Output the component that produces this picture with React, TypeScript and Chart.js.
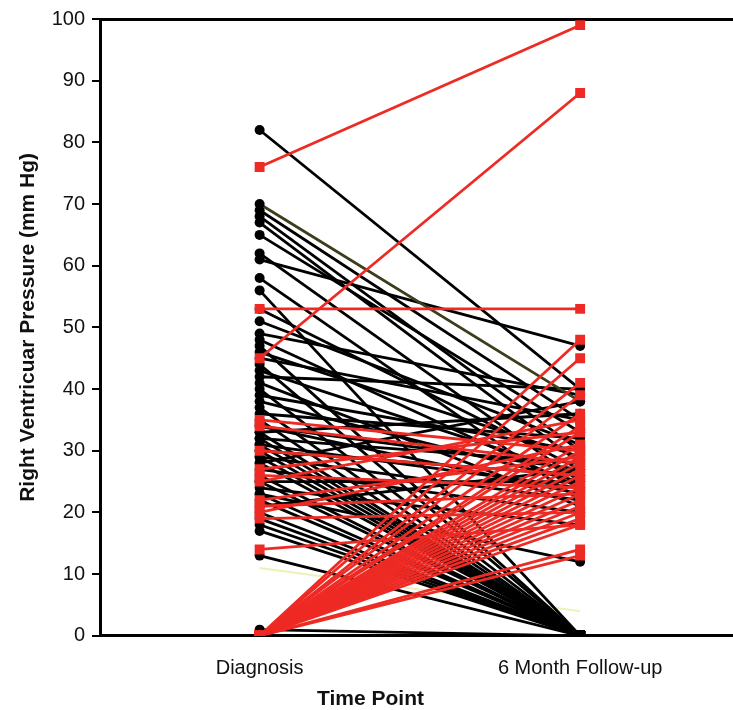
import React, { useEffect, useRef } from "react";
import { Chart, registerables } from "chart.js";

Chart.register(...registerables);

const timePoints = ["Diagnosis", "6 Month Follow-up"];
const yTicks = [0, 10, 20, 30, 40, 50, 60, 70, 80, 90, 100];

// Black (circle) patients: value at diagnosis and at 6 month follow-up
const blackDiagnosis = [82, 70, 69, 68, 67, 65, 62, 61, 58, 56, 53, 51, 49, 48, 47, 46, 45, 44, 43, 42, 41, 40, 39, 38, 37, 36, 35, 34, 34, 33, 33, 32, 32, 31, 31, 30, 30, 29, 29, 28, 28, 27, 26, 25, 25, 24, 23, 23, 22, 21, 20, 19, 18, 17, 13, 1, 0];
const blackFollowUp = [40, 38, 35, 30, 28, 33, 25, 47, 22, 0, 27, 31, 39, 24, 0, 29, 35, 0, 26, 40, 21, 0, 30, 25, 0, 32, 0, 27, 23, 0, 36, 0, 28, 24, 0, 26, 0, 22, 0, 38, 0, 20, 0, 25, 0, 18, 12, 0, 0, 27, 0, 0, 0, 0, 0, 0, 0];

// Red (square) patients
const redDiagnosis = [76, 45, 53, 35, 34, 30, 27, 26, 25, 22, 21, 20, 19, 14, 0, 0, 0, 0, 0, 0, 0, 0, 0, 0, 0, 0, 0, 0, 0, 0, 0, 0, 0, 0, 0, 0, 0];
const redFollowUp = [99, 88, 53, 30, 28, 26, 33, 24, 35, 29, 23, 31, 20, 18, 48, 45, 41, 39, 36, 34, 33, 31, 30, 29, 28, 27, 26, 25, 24, 23, 22, 21, 20, 19, 18, 14, 13];

// faint yellow trace
const yellowDiagnosis = [11];
const yellowFollowUp = [4];

const FONT = "'Liberation Sans', Arial, sans-serif";

export default function App() {
  const ref = useRef<HTMLCanvasElement | null>(null);

  useEffect(() => {
    if (!ref.current) return;
    const datasets: any[] = [];
    redDiagnosis.forEach((d, i) => {
      datasets.push({
        data: [
          { x: 0, y: d },
          { x: 1, y: redFollowUp[i] },
        ],
        borderColor: "#ee2a24",
        backgroundColor: "#ee2a24",
        borderWidth: 2.8,
        pointStyle: "rect",
        pointRadius: 7,
        pointBorderWidth: 0,
        order: 1,
      });
    });
    blackDiagnosis.forEach((d, i) => {
      const f = blackFollowUp[i];
      datasets.push({
        data: [
          { x: 0, y: d },
          { x: 1, y: f },
        ],
        borderColor: i === 1 ? "#3d3d1c" : "#000000",
        backgroundColor: "#000000",
        borderWidth: 2.8,
        pointStyle: ["circle", f === 0 ? "rect" : "circle"],
        pointRadius: [5, f === 0 ? 7 : 5],
        pointBorderWidth: 0,
        order: 2,
      });
    });
    yellowDiagnosis.forEach((d, i) => {
      datasets.push({
        data: [
          { x: 0, y: d },
          { x: 1, y: yellowFollowUp[i] },
        ],
        borderColor: "#eef0b8",
        borderWidth: 2,
        pointRadius: 0,
        order: 3,
      });
    });

    const chart = new Chart(ref.current, {
      type: "line",
      data: { datasets },
      options: {
        animation: false,
        responsive: false,
        maintainAspectRatio: false,
        layout: { padding: 0 },
        plugins: {
          legend: { display: false },
          tooltip: { enabled: false },
          title: {
            display: true,
            position: "bottom",
            text: "Time Point",
            color: "#111",
            font: { family: FONT, size: 21, weight: "bold" },
            padding: { top: 4, bottom: -2 },
          },
        },
        scales: {
          x: {
            type: "linear",
            position: "bottom",
            min: -0.498,
            max: 1.48,
            afterBuildTicks: (s: any) => {
              s.ticks = [{ value: 0 }, { value: 1 }];
            },
            afterFit: (s: any) => {
              s.height = 47;
            },
            grid: { display: false },
            border: { color: "#000", width: 3 },
            ticks: {
              color: "#111",
              padding: 13,
              maxRotation: 0,
              font: { family: FONT, size: 20 },
              callback: (v: any) => timePoints[v] ?? "",
            },
          },
          xTop: {
            type: "linear",
            position: "top",
            min: -0.498,
            max: 1.48,
            afterFit: (s: any) => {
              s.height = 17;
            },
            grid: { display: false },
            border: { color: "#000", width: 3 },
            ticks: { display: false },
          },
          y: {
            type: "linear",
            min: 0,
            max: 100,
            afterBuildTicks: (s: any) => {
              s.ticks = yTicks.map((v) => ({ value: v }));
            },
            afterFit: (s: any) => {
              s.width = 100;
            },
            grid: {
              drawOnChartArea: false,
              drawTicks: true,
              tickLength: 8,
              color: "#000",
              lineWidth: 2,
            },
            border: { color: "#000", width: 3 },
            ticks: {
              color: "#111",
              padding: 7,
              font: { family: FONT, size: 20 },
            },
            title: {
              display: true,
              text: "Right Ventricuar Pressure (mm Hg)",
              color: "#111",
              font: { family: FONT, size: 21, weight: "bold" },
              padding: { top: 16, bottom: 0 },
            },
          },
        },
      },
    });
    return () => chart.destroy();
  }, []);

  return (
    <div style={{ position: "fixed", left: 0, top: 0, width: 733, height: 710, overflow: "hidden", background: "#fff" }}>
      <canvas ref={ref} width={741} height={710} style={{ display: "block" }} />
    </div>
  );
}
